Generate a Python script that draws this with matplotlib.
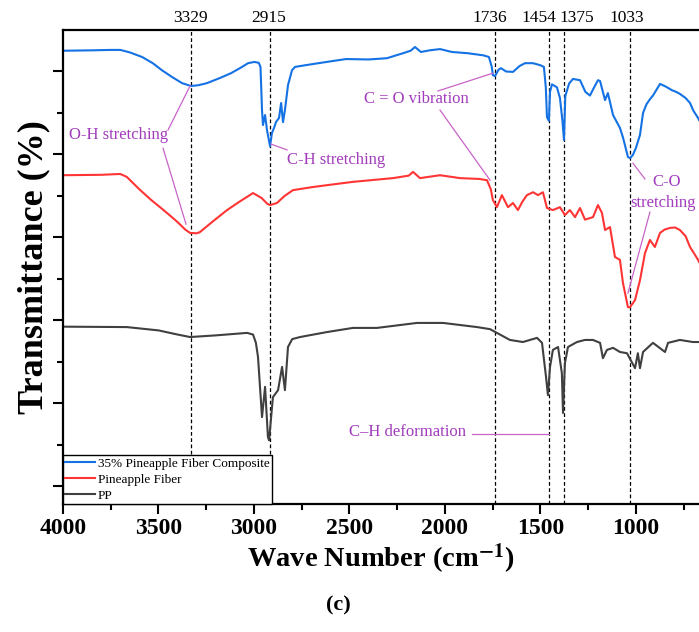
import matplotlib
matplotlib.use("Agg")
import matplotlib.pyplot as plt
from matplotlib.ticker import MultipleLocator
import matplotlib.transforms as mtransforms

plt.rcParams['font.family'] = ['Liberation Serif', 'DejaVu Serif']
plt.rcParams['mathtext.fontset'] = 'stix'

# ---- data (wavenumber cm^-1, transmittance in arbitrary offset units) ----
comp_wn = [4000, 3850, 3750, 3700, 3650, 3586, 3530, 3482, 3430, 3377, 3330, 3290,
           3246, 3180, 3120, 3070, 3031, 2999, 2975, 2966,
           2958, 2953, 2942, 2932, 2916, 2906, 2895, 2885, 2869, 2858, 2848, 2838,
           2822, 2801, 2785, 2733, 2620, 2518, 2400, 2304, 2220, 2180, 2157, 2126, 2080,
           2026, 1963, 1880, 1800,
           1770, 1755, 1749, 1738, 1720, 1707, 1680, 1644, 1610, 1581, 1539, 1500, 1482,
           1472, 1466, 1456, 1450, 1440,
           1414, 1398, 1385, 1377, 1370, 1350, 1330, 1293, 1265, 1241, 1220, 1199, 1188,
           1162, 1147,
           1120, 1084, 1068, 1042, 1031, 1016, 1000, 990, 979, 963, 945, 927, 911, 890,
           874, 850, 838, 812, 790, 770, 740, 717, 700, 675, 670]
comp_t = [104.9, 105.0, 105.1, 105.1, 104.5, 103.4, 101.9, 100.2, 98.6, 97.1, 96.4, 96.6,
          97.1, 98.3, 99.5, 100.8, 101.9, 102.2, 102.0, 101.0,
          90.6, 87.0, 89.4, 85.8, 81.9, 85.1, 86.3, 87.7, 88.7, 92.3, 87.7, 90.6,
          96.6, 100.2, 101.0, 101.4, 102.2, 102.9, 102.8, 103.1, 104.3, 104.9, 105.8, 104.6, 105.0,
          105.3, 104.6, 104.3, 103.8,
          103.4, 101.0, 99.0, 98.8, 100.3, 100.7, 99.9, 99.8, 101.2, 101.9, 101.9, 101.4, 101.0,
          96.0, 88.9, 88.0, 95.0, 96.8,
          96.1, 93.5, 88.0, 83.4, 94.0, 97.0, 98.1, 97.8, 95.0, 94.1, 96.0, 97.8, 97.6,
          93.0, 94.7,
          89.4, 86.3, 84.0, 79.3, 79.0, 79.8, 81.5, 83.0, 84.6, 89.9, 92.0, 93.2, 94.1, 95.7,
          96.9, 96.4, 96.1, 95.4, 95.0, 94.5, 93.5, 92.3, 90.5, 88.7, 88.2]

fiber_wn = [4000, 3800, 3700, 3666, 3600, 3540, 3492, 3440, 3400, 3360, 3335, 3300,
            3283, 3220, 3141, 3070, 3005, 2960, 2930, 2916, 2880, 2840, 2796, 2700,
            2618, 2482, 2272, 2190, 2167, 2131, 2026, 1921, 1820, 1780, 1760, 1749, 1728,
            1702, 1670, 1644, 1618, 1595, 1571, 1539, 1513, 1487, 1466, 1435, 1398, 1372,
            1346, 1319, 1293, 1267, 1225, 1199, 1178, 1162, 1136, 1110, 1084, 1068, 1042,
            1031, 1005, 979, 953, 927, 901, 874, 850, 822, 795, 770, 740, 717, 695, 675, 670]
fiber_t = [74.9, 75.0, 75.2, 74.5, 71.5, 69.0, 67.2, 65.2, 63.6, 61.8, 61.0, 60.9,
           61.2, 63.6, 66.5, 68.7, 70.6, 69.4, 68.0, 67.7, 68.2, 69.9, 71.3, 72.0,
           72.5, 73.3, 74.2, 74.8, 75.7, 74.2, 74.9, 74.2, 74.0, 73.7, 71.5, 68.9, 67.2,
           70.1, 67.2, 68.2, 66.5, 68.5, 70.1, 70.8, 70.1, 70.8, 67.0, 66.5, 67.2, 65.3,
           66.5, 64.8, 67.0, 64.2, 64.8, 67.7, 65.8, 61.7, 62.4, 55.2, 54.5, 48.9, 43.1,
           43.1, 44.8, 49.6, 56.1, 59.3, 57.6, 61.0, 61.8, 62.2, 62.3, 61.7, 60.2, 57.6, 56.0, 54.5, 54.0]

pp_wn = [4000, 3666, 3500, 3400, 3335, 3200, 3036, 3005, 2990, 2979, 2958, 2942, 2927,
         2921, 2901, 2874, 2853, 2838, 2822, 2800, 2759, 2618, 2482, 2356, 2147, 2010,
         1832, 1764, 1728, 1660, 1592, 1518, 1492, 1471, 1461, 1450, 1435, 1408, 1388,
         1382, 1372, 1356, 1309, 1267, 1225, 1188, 1173, 1152, 1120, 1084, 1047, 1005,
         990, 979, 963, 911, 848, 832, 770, 702, 670]
pp_t = [38.4, 38.3, 37.5, 36.5, 35.9, 36.3, 36.9, 36.5, 34.5, 31.1, 16.6, 23.9, 11.8,
        11.0, 21.4, 23.1, 28.7, 23.1, 33.5, 35.4, 35.9, 37.1, 38.1, 38.1, 39.3, 39.3,
        38.3, 37.8, 36.9, 35.2, 34.7, 35.7, 34.5, 26.3, 21.9, 28.7, 32.8, 33.5, 27.2,
        17.6, 29.6, 33.5, 34.7, 35.2, 35.2, 34.5, 30.8, 32.8, 33.3, 32.3, 32.0, 28.4,
        32.0, 28.4, 32.3, 34.5, 32.3, 34.5, 35.2, 34.7, 34.7]

peak_wn = [3329, 2915, 1736, 1454, 1375, 1033]
peak_labels = ["3329", "2915", "1736", "1454", "1375", "1033"]
peak_label_x = [3335, 2921, 1764, 1508, 1309, 1047]

series_labels = ["35% Pineapple Fiber Composite", "Pineapple Fiber", "PP"]
colors = ["#1472e4", "#ff3535", "#404040"]

# ---- figure ----
fig = plt.figure(figsize=(6.99, 6.32), dpi=100)
ax = fig.add_axes([63/699, 128/632, 636/699, 474/632])

for wn, t, lab, c in zip([comp_wn, fiber_wn, pp_wn], [comp_t, fiber_t, pp_t],
                         series_labels, colors):
    ax.plot(wn, t, color=c, lw=1.5, label=lab)

ax.set_xlim(4000, 670)
ax.set_ylim(-4.34, 109.9)

for w in peak_wn:
    ax.axvline(w, color='black', lw=0.9, ls=(0, (3, 2)), zorder=1)

trans = mtransforms.blended_transform_factory(ax.transData, ax.transAxes)
for lx, lab in zip(peak_label_x, peak_labels):
    ax.text(lx, 1.025, lab, transform=trans, ha='center', va='center',
            fontsize=12.5, color='black')

tc = "#a23cbc"
lc = "#c864c8"
ax.text(3707, 84.6, "O-H stretching", color=tc, fontsize=12, ha='center', va='center')
ax.plot([3450, 3335], [85.8, 96.4], color=lc, lw=0.9)
ax.plot([3476, 3356], [81.4, 63.1], color=lc, lw=0.9)

ax.text(2827, 78.6, "C-H stretching", color=tc, fontsize=12, ha='left', va='center')
ax.plot([2827, 2911], [81.0, 82.4], color=lc, lw=0.9)

ax.text(2152, 93.3, "C = O vibration", color=tc, fontsize=12, ha='center', va='center')
ax.plot([2037, 1749], [95.2, 99.5], color=lc, lw=0.9)
ax.plot([2026, 1764], [90.6, 73.7], color=lc, lw=0.9)

ax.text(838, 73.3, "C-O", color=tc, fontsize=12, ha='center', va='center')
ax.text(859, 68.2, "stretching", color=tc, fontsize=12, ha='center', va='center')
ax.plot([1016, 953], [77.8, 74.0], color=lc, lw=0.9)
ax.plot([927, 1042], [66.0, 46.5], color=lc, lw=0.9)

ax.text(2194, 13.0, "C\u2013H deformation", color=tc, fontsize=12, ha='center', va='center')
ax.plot([1859, 1456], [12.5, 12.5], color=lc, lw=0.9)

# ---- axes styling ----
ax.spines['right'].set_visible(False)
for s in ['left', 'bottom', 'top']:
    ax.spines[s].set_linewidth(1.6)
ax.xaxis.set_major_locator(MultipleLocator(500))
ax.xaxis.set_minor_locator(MultipleLocator(250))
ax.yaxis.set_major_locator(MultipleLocator(20))
ax.yaxis.set_minor_locator(MultipleLocator(10))
ax.tick_params(axis='both', which='major', direction='out', length=7, width=1.5)
ax.tick_params(axis='both', which='minor', direction='out', length=4, width=1.5)
ax.tick_params(axis='y', labelleft=False)
ax.tick_params(axis='x', labelsize=17, pad=3)
for lbl in ax.get_xticklabels():
    lbl.set_fontweight('bold')

ax.set_xlabel(r"Wave Number (cm$^{\mathbf{-1}}$)", fontsize=20.5, fontweight='bold', labelpad=2)
ax.set_ylabel("Transmittance (%)", fontsize=26, fontweight='bold', labelpad=2)

leg = ax.legend(loc='lower left', bbox_to_anchor=(0, 0), borderaxespad=0,
                prop={'family': 'Liberation Serif', 'size': 9.5},
                fancybox=False, edgecolor='black', framealpha=1,
                handlelength=2.3, handletextpad=0.2, labelspacing=0.3,
                borderpad=0.15)
leg.get_frame().set_linewidth(1.0)

fig.text(338/699, 1 - 605/632, "(c)", fontsize=16, fontweight='bold',
         ha='center', va='center')

fig.savefig("out.png", dpi=100)
